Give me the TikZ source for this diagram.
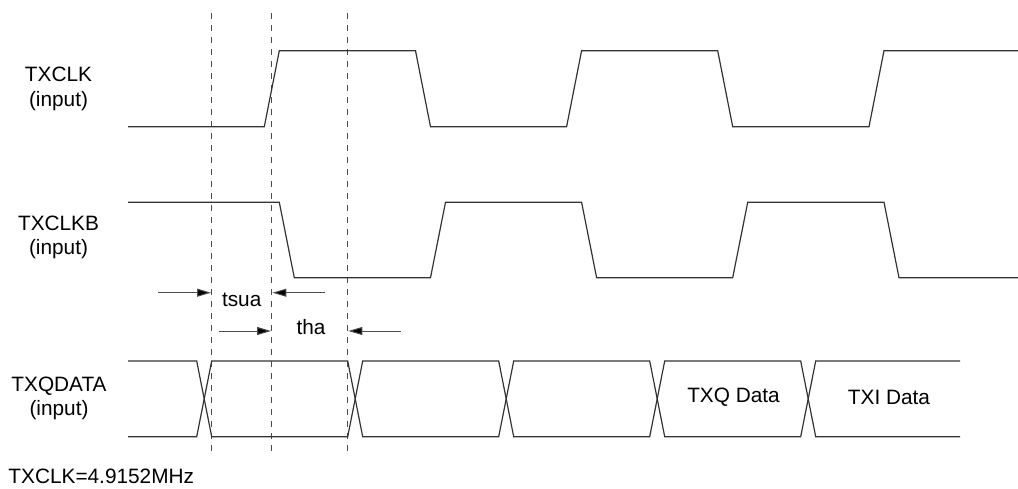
\documentclass[tikz,border=0pt]{standalone}
\usepackage{fontspec}
\setmainfont{Liberation Sans}
\usetikzlibrary{arrows.meta}
\begin{document}
\begin{tikzpicture}[x=1pt,y=-1pt,
  sig/.style={draw=black!80,line width=1.2pt,line join=miter},
  guide/.style={draw=black!70,line width=0.9pt,dash pattern=on 6pt off 6pt},
  dim/.style={draw=black!70,line width=1pt,-{Triangle[length=14pt,width=8pt,fill=black]}},
  lbl/.style={inner sep=0pt,align=center,font=\fontsize{20.8}{24.3}\selectfont},
  txt/.style={inner sep=0pt,font=\fontsize{20.8}{24.3}\selectfont}]
\useasboundingbox (0,0) rectangle (1018,488);
% labels
\node[lbl] (lclk) at (58.5,89) {TXCLK\\(input)};
\node[lbl] (lclkb) at (58.5,237.5) {TXCLKB\\(input)};
\node[lbl] (ldata) at (59,398.5) {TXQDATA\\(input)};
\node[txt,anchor=west] (freq) at (8.3,476.7) {TXCLK=4.9152MHz};
% dashed guides
\coordinate (g1t) at (211.7,13); \coordinate (g1b) at (211.7,451);
\coordinate (g2t) at (271.7,13); \coordinate (g2b) at (271.7,451);
\coordinate (g3t) at (347.7,13); \coordinate (g3b) at (347.7,451);
\draw[guide] (g1t) -- (g1b);
\draw[guide] (g2t) -- (g2b);
\draw[guide] (g3t) -- (g3b);
% TXCLK
\draw[sig] (128,126.7) -- (264.3,126.7) -- (279.3,50.7) -- (415.5,50.7) -- (430.5,126.7)
  -- (566.6,126.7) -- (581.6,50.7) -- (717.7,50.7) -- (732.7,126.7)
  -- (869,126.7) -- (884,50.7) -- (1018,50.7);
% TXCLKB
\draw[sig] (128,202.3) -- (279.3,202.3) -- (294.3,277.7) -- (430.5,277.7) -- (445.5,202.3)
  -- (581.6,202.3) -- (596.6,277.7) -- (732.7,277.7) -- (747.7,202.3)
  -- (884,202.3) -- (899,277.7) -- (1018,277.7);
% TXQDATA
\draw[sig] (128,361) -- (196.7,361) -- (211.7,436.7) -- (347.7,436.7) -- (362.7,361)
  -- (498.7,361) -- (513.7,436.7) -- (649.7,436.7) -- (664.7,361)
  -- (800.7,361) -- (815.7,436.7) -- (960,436.7);
\draw[sig] (128,436.7) -- (196.7,436.7) -- (211.7,361) -- (347.7,361) -- (362.7,436.7)
  -- (498.7,436.7) -- (513.7,361) -- (649.7,361) -- (664.7,436.7)
  -- (800.7,436.7) -- (815.7,361) -- (960,361);
\node[txt] (dq) at (733.5,397.5) {TXQ Data};
\node[txt] (di) at (889,397.5) {TXI Data};
% timing arrows
\coordinate (a1s) at (158.3,292.7); \coordinate (a1e) at (211,292.7);
\coordinate (a2s) at (325,292.7);   \coordinate (a2e) at (272.4,292.7);
\coordinate (b1s) at (219,331);     \coordinate (b1e) at (271,331);
\coordinate (b2s) at (400.7,331);   \coordinate (b2e) at (348.4,331);
\draw[dim] (a1s) -- (a1e);
\draw[dim] (a2s) -- (a2e);
\draw[dim] (b1s) -- (b1e);
\draw[dim] (b2s) -- (b2e);
\node[txt] (tsua) at (241.7,300) {tsua};
\node[txt] (tha) at (311,327.5) {tha};
\end{tikzpicture}
\end{document}
